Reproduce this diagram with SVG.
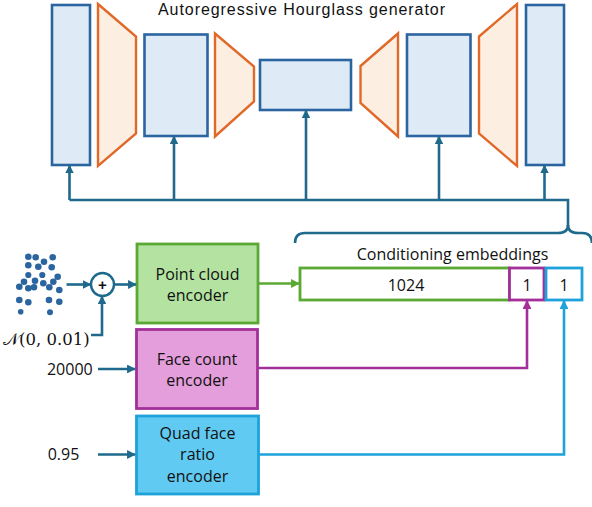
<svg xmlns="http://www.w3.org/2000/svg" width="592" height="507" viewBox="0 0 592 507">
<defs>
<style>
.blk{fill:#deebf7;stroke:#2b65a0;stroke-width:2.6}
.trap{fill:#fdeee2;stroke:#e0692a;stroke-width:2.4;stroke-linejoin:miter}
.t{font-family:"Open Sans","Liberation Sans",Arial,sans-serif;font-size:16px;fill:#111}
.c{text-anchor:middle}
.ln{fill:none;stroke:#1f6a8c;stroke-width:2.6}
.dot{fill:#2b65a0}
</style>
<marker id="ah" viewBox="0 0 10 10" refX="9" refY="5" markerWidth="3.4" markerHeight="3.4" orient="auto" markerUnits="strokeWidth"><path d="M0,0L10,5L0,10z" fill="#1f6a8c"/></marker>
<marker id="ahg" viewBox="0 0 10 10" refX="9" refY="5" markerWidth="3.4" markerHeight="3.4" orient="auto" markerUnits="strokeWidth"><path d="M0,0L10,5L0,10z" fill="#5aa935"/></marker>
<marker id="ahp" viewBox="0 0 10 10" refX="9" refY="5" markerWidth="3.4" markerHeight="3.4" orient="auto" markerUnits="strokeWidth"><path d="M0,0L10,5L0,10z" fill="#a3309a"/></marker>
<marker id="ahb" viewBox="0 0 10 10" refX="9" refY="5" markerWidth="3.4" markerHeight="3.4" orient="auto" markerUnits="strokeWidth"><path d="M0,0L10,5L0,10z" fill="#1ea2da"/></marker>
</defs>
<rect width="592" height="507" fill="#fff"/>
<text x="301.5" y="14.8" text-anchor="middle" textLength="287" lengthAdjust="spacing" style="font-family:'Liberation Sans',Arial,sans-serif;font-size:16px;fill:#111">Autoregressive Hourglass generator</text>
<g id="generator">
<rect id="blk1" class="blk" x="52" y="5" width="38" height="160"/>
<polygon id="trap1" class="trap" points="98,4 136,36.5 136,133.5 98,166"/>
<rect id="blk2" class="blk" x="144.5" y="34.5" width="63" height="101.5"/>
<polygon id="trap2" class="trap" points="215,33.5 254,66.5 254,101.5 215,136.5"/>
<rect id="blk3" class="blk" x="260" y="60" width="91" height="50"/>
<polygon id="trap3" class="trap" points="360.5,66 398,33.5 398,136.5 360.5,103"/>
<rect id="blk4" class="blk" x="407" y="34.5" width="63.5" height="101.5"/>
<polygon id="trap4" class="trap" points="479,36.5 517,4 517,166 479,133.5"/>
<rect id="blk5" class="blk" x="526" y="5" width="38" height="160"/>
</g>
<g id="pointcloud">
<circle class="dot" cx="28.3" cy="256.7" r="3.3"/>
<circle class="dot" cx="35.7" cy="257.3" r="3.3"/>
<circle class="dot" cx="52.7" cy="257.3" r="3.3"/>
<circle class="dot" cx="44" cy="261.7" r="3.3"/>
<circle class="dot" cx="28.3" cy="265.3" r="3.3"/>
<circle class="dot" cx="38.3" cy="266.7" r="3.3"/>
<circle class="dot" cx="51.7" cy="267.3" r="3.3"/>
<circle class="dot" cx="28.3" cy="275" r="3.1"/>
<circle class="dot" cx="42.3" cy="275" r="3.1"/>
<circle class="dot" cx="57.7" cy="276.7" r="3.3"/>
<circle class="dot" cx="24" cy="281.7" r="3.3"/>
<circle class="dot" cx="35" cy="280.7" r="3.3"/>
<circle class="dot" cx="53.3" cy="281.7" r="3.3"/>
<circle class="dot" cx="19.3" cy="286.7" r="3.3"/>
<circle class="dot" cx="28.3" cy="288.3" r="3.3"/>
<circle class="dot" cx="34" cy="287.3" r="3.3"/>
<circle class="dot" cx="43.3" cy="283.3" r="3.3"/>
<circle class="dot" cx="49.3" cy="287.3" r="3.3"/>
<circle class="dot" cx="59.3" cy="290" r="3.3"/>
<circle class="dot" cx="19.3" cy="300" r="3.3"/>
<circle class="dot" cx="28.3" cy="302.3" r="3.3"/>
<circle class="dot" cx="49" cy="300" r="3.3"/>
<circle class="dot" cx="59.3" cy="301.7" r="3.3"/>
<circle class="dot" cx="20.7" cy="311.7" r="2.8"/>
<circle class="dot" cx="50" cy="312.3" r="3"/>
</g>
<g id="plus">
<circle cx="102.5" cy="284.5" r="11.5" fill="#fff" stroke="#1f6a8c" stroke-width="2.4"/>
<text x="102.5" y="290" text-anchor="middle" style="font-family:'Liberation Sans',sans-serif;font-size:15px;font-weight:bold;fill:#111">+</text>
</g>
<text id="noise" x="3" y="345" style="font-family:'DejaVu Serif','Liberation Serif',serif;font-size:16.5px;fill:#111">𝒩(0, 0.01)</text>
<g id="pc_enc">
<rect x="137" y="244" width="121" height="79" fill="#b4e3a1" stroke="#5aa935" stroke-width="2.8"/>
<text class="t c" x="197.5" y="279.5">Point cloud</text>
<text class="t c" x="197.5" y="301">encoder</text>
</g>
<g id="fc_enc">
<rect x="136.5" y="329.5" width="121" height="79" fill="#e49edb" stroke="#a3309a" stroke-width="2.8"/>
<text class="t c" x="197" y="364.5">Face count</text>
<text class="t c" x="197" y="386">encoder</text>
</g>
<g id="qf_enc">
<rect x="136.5" y="416" width="122" height="78" fill="#61caf2" stroke="#1ea2da" stroke-width="2.8"/>
<text class="t c" x="197.5" y="438.5">Quad face</text>
<text class="t c" x="197.5" y="460">ratio</text>
<text class="t c" x="197.5" y="482">encoder</text>
</g>
<text id="fc_in" class="t" x="92.7" y="375" text-anchor="end">20000</text>
<text id="qf_in" class="t c" x="63.5" y="460">0.95</text>
<g id="embeddings">
<text class="t c" x="452.5" y="260">Conditioning embeddings</text>
<rect x="300" y="268" width="209.5" height="32" fill="#fff" stroke="#5aa935" stroke-width="2.8"/>
<rect x="509.5" y="268" width="34.5" height="32" fill="#fff" stroke="#a3309a" stroke-width="2.8"/>
<rect x="546" y="268" width="36" height="32" fill="#fff" stroke="#1ea2da" stroke-width="2.8"/>
<text class="t c" x="406" y="290.5">1024</text>
<text class="t c" x="527" y="290.5">1</text>
<text class="t c" x="564" y="290.5">1</text>
</g>
<g id="connectors">
<path class="ln" d="M69.5,200H568V226"/>
<path class="ln" d="M295,243Q295,233 305,233H558Q568,233 568,225Q568,233 578,233H582Q592,233 592,243"/>
<path class="ln" d="M69.5,200V165.5" marker-end="url(#ah)"/>
<path class="ln" d="M174,200V136.5" marker-end="url(#ah)"/>
<path class="ln" d="M306,200V110.5" marker-end="url(#ah)"/>
<path class="ln" d="M439,200V136.5" marker-end="url(#ah)"/>
<path class="ln" d="M544.5,200V165.5" marker-end="url(#ah)"/>
<path class="ln" d="M66.5,284.5H90.5" marker-end="url(#ah)"/>
<path class="ln" d="M114,284.5H136" marker-end="url(#ah)"/>
<path class="ln" d="M91,335H102V296.5" marker-end="url(#ah)"/>
<path class="ln" d="M98,369H135" marker-end="url(#ah)"/>
<path class="ln" d="M98,454.5H135" marker-end="url(#ah)"/>
<path d="M258,283.5H299" fill="none" stroke="#5aa935" stroke-width="2.6" marker-end="url(#ahg)"/>
<path d="M257,368H527V301" fill="none" stroke="#a3309a" stroke-width="2.6" marker-end="url(#ahp)"/>
<path d="M258,454.5H564V301" fill="none" stroke="#1ea2da" stroke-width="2.6" marker-end="url(#ahb)"/>
</g>
</svg>
